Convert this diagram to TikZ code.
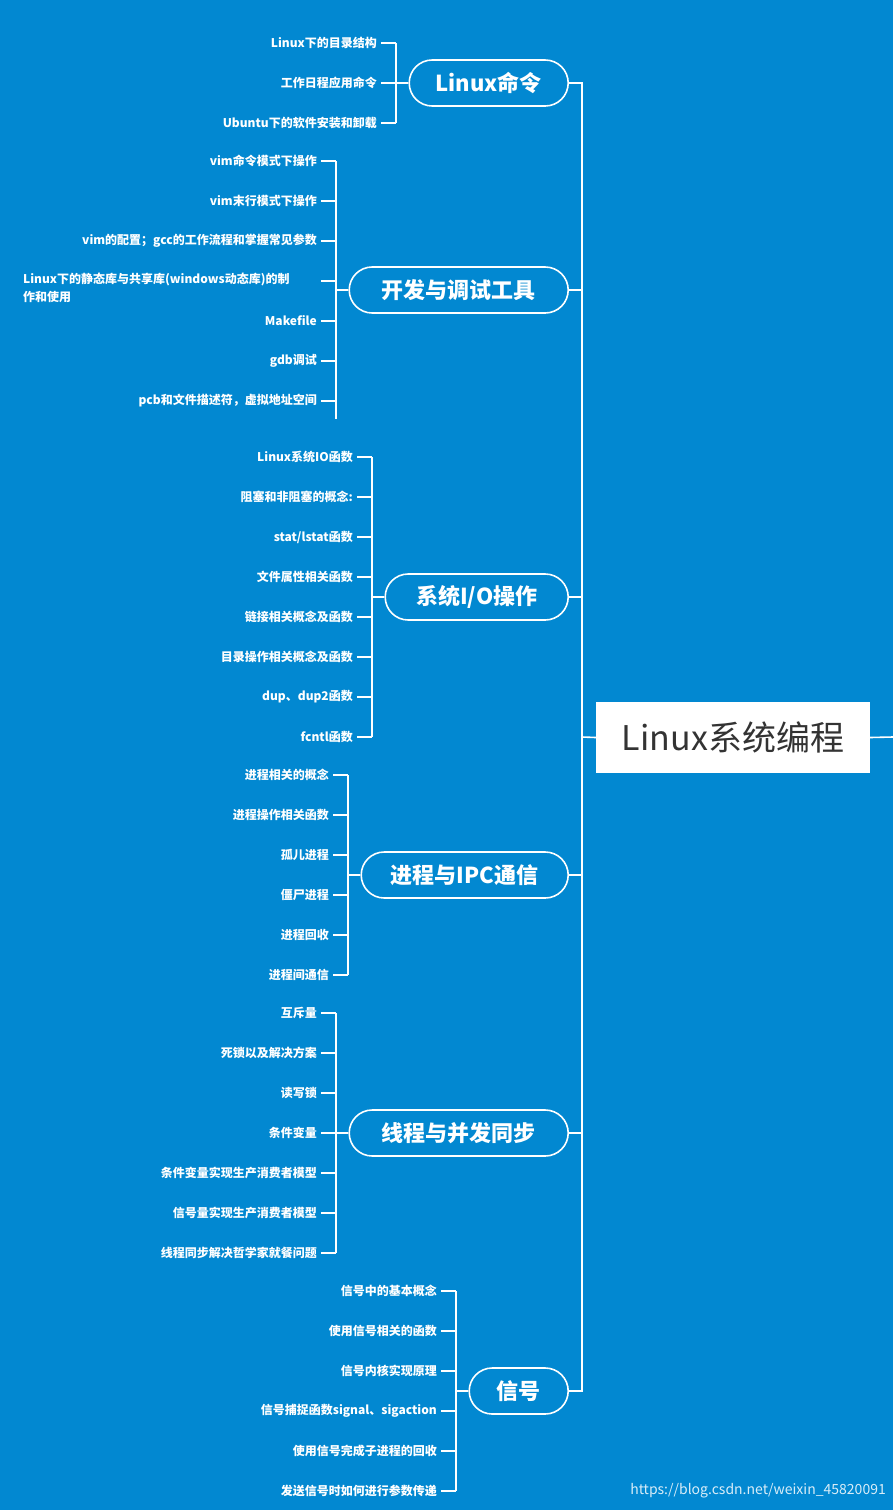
\documentclass[tikz,border=0pt]{standalone}
\usepackage{fontspec}
\setmainfont{Noto Sans CJK SC}
\definecolor{bg}{HTML}{0288D1}
\definecolor{roottext}{HTML}{333333}
\begin{document}
\begin{tikzpicture}[x=1pt,y=-1pt,
  ln/.style={draw=white,line width=1.6pt},
  branch/.style={draw=white,line width=1.6pt,rounded corners=23pt,minimum height=46pt,text=white,font=\fontsize{22}{24}\selectfont\bfseries,inner sep=0pt,anchor=east},
  leaf/.style={text=white,font=\fontsize{12}{14}\selectfont\bfseries,anchor=east,inner sep=0pt}]
\fill[bg] (0,0) rectangle (893,1510);
\useasboundingbox (0,0) rectangle (893,1510);
\node[fill=white,minimum width=274pt,minimum height=71pt,text=roottext,font=\fontsize{34}{36}\selectfont,inner sep=0pt] (root) at (733,737.5) {Linux系统编程};
\coordinate (re) at (893,737);
\draw[ln] (root.east) -- (re);
\coordinate (sp) at (582,737);
\draw[ln] (root.west) -- (sp);
% branches
\node[branch,minimum width=159pt] (b1) at (569,83) {Linux命令};
\node[branch,minimum width=219pt] (b2) at (569,290) {开发与调试工具};
\node[branch,minimum width=183pt] (b3) at (569,597) {系统I/O操作};
\node[branch,minimum width=207pt] (b4) at (569,875) {进程与IPC通信};
\node[branch,minimum width=219pt] (b5) at (569,1133) {线程与并发同步};
\node[branch,minimum width=99pt] (b6) at (569,1391) {信号};
\draw[ln] (b1.east) -| (582,1391) -- (b6.east);
\foreach \b in {b2,b3,b4,b5} \draw[ln] (\b.east) -- (\b.east -| sp);
% leaves macro
\newcommand{\leaves}[5]{% branch, bracketx, y0, step, list
  \foreach \t [count=\i from 0] in {#5} {
    \node[leaf] (#1l\i) at (#2-19,#3+\i*#4) {\t};
    \draw[ln] ([xshift=4pt]#1l\i.east) -- (#2,#3+\i*#4);
  }}
\leaves{b1}{396}{43}{40}{Linux下的目录结构,工作日程应用命令,Ubuntu下的软件安装和卸载}
\draw[ln] (396,43) -- (396,123); \draw[ln] (b1.west) -- (396,83);
\leaves{b2}{336}{161}{40}{vim命令模式下操作,vim末行模式下操作,vim的配置；gcc的工作流程和掌握常见参数,{},Makefile,gdb调试,pcb和文件描述符，虚拟地址空间}
\node[text=white,font=\fontsize{12}{18}\selectfont\bfseries,align=left,anchor=north west,inner sep=0pt] (b2w) at (23,273) {Linux下的静态库与共享库(windows动态库)的制\\作和使用};
\draw[ln] (322,281) -- (336,281);
\draw[ln] (336,161) -- (336,419); \draw[ln] (b2.west) -- (336,290);
\leaves{b3}{372}{457}{40}{Linux系统IO函数,阻塞和非阻塞的概念:,stat/lstat函数,文件属性相关函数,链接相关概念及函数,目录操作相关概念及函数,dup、dup2函数,fcntl函数}
\draw[ln] (372,457) -- (372,737); \draw[ln] (b3.west) -- (372,597);
\leaves{b4}{348}{775}{40}{进程相关的概念,进程操作相关函数,孤儿进程,僵尸进程,进程回收,进程间通信}
\draw[ln] (348,775) -- (348,975); \draw[ln] (b4.west) -- (348,875);
\leaves{b5}{336}{1013}{40}{互斥量,死锁以及解决方案,读写锁,条件变量,条件变量实现生产消费者模型,信号量实现生产消费者模型,线程同步解决哲学家就餐问题}
\draw[ln] (336,1013) -- (336,1253); \draw[ln] (b5.west) -- (336,1133);
\leaves{b6}{456}{1291}{40}{信号中的基本概念,使用信号相关的函数,信号内核实现原理,信号捕捉函数signal、sigaction,使用信号完成子进程的回收,发送信号时如何进行参数传递}
\draw[ln] (456,1291) -- (456,1491); \draw[ln] (b6.west) -- (456,1391);
\node[text=white!85!bg,font=\fontsize{14}{16}\selectfont,anchor=east,inner sep=0pt] (wm) at (886,1491) {https://blog.csdn.net/weixin\_45820091};
\end{tikzpicture}
\end{document}
